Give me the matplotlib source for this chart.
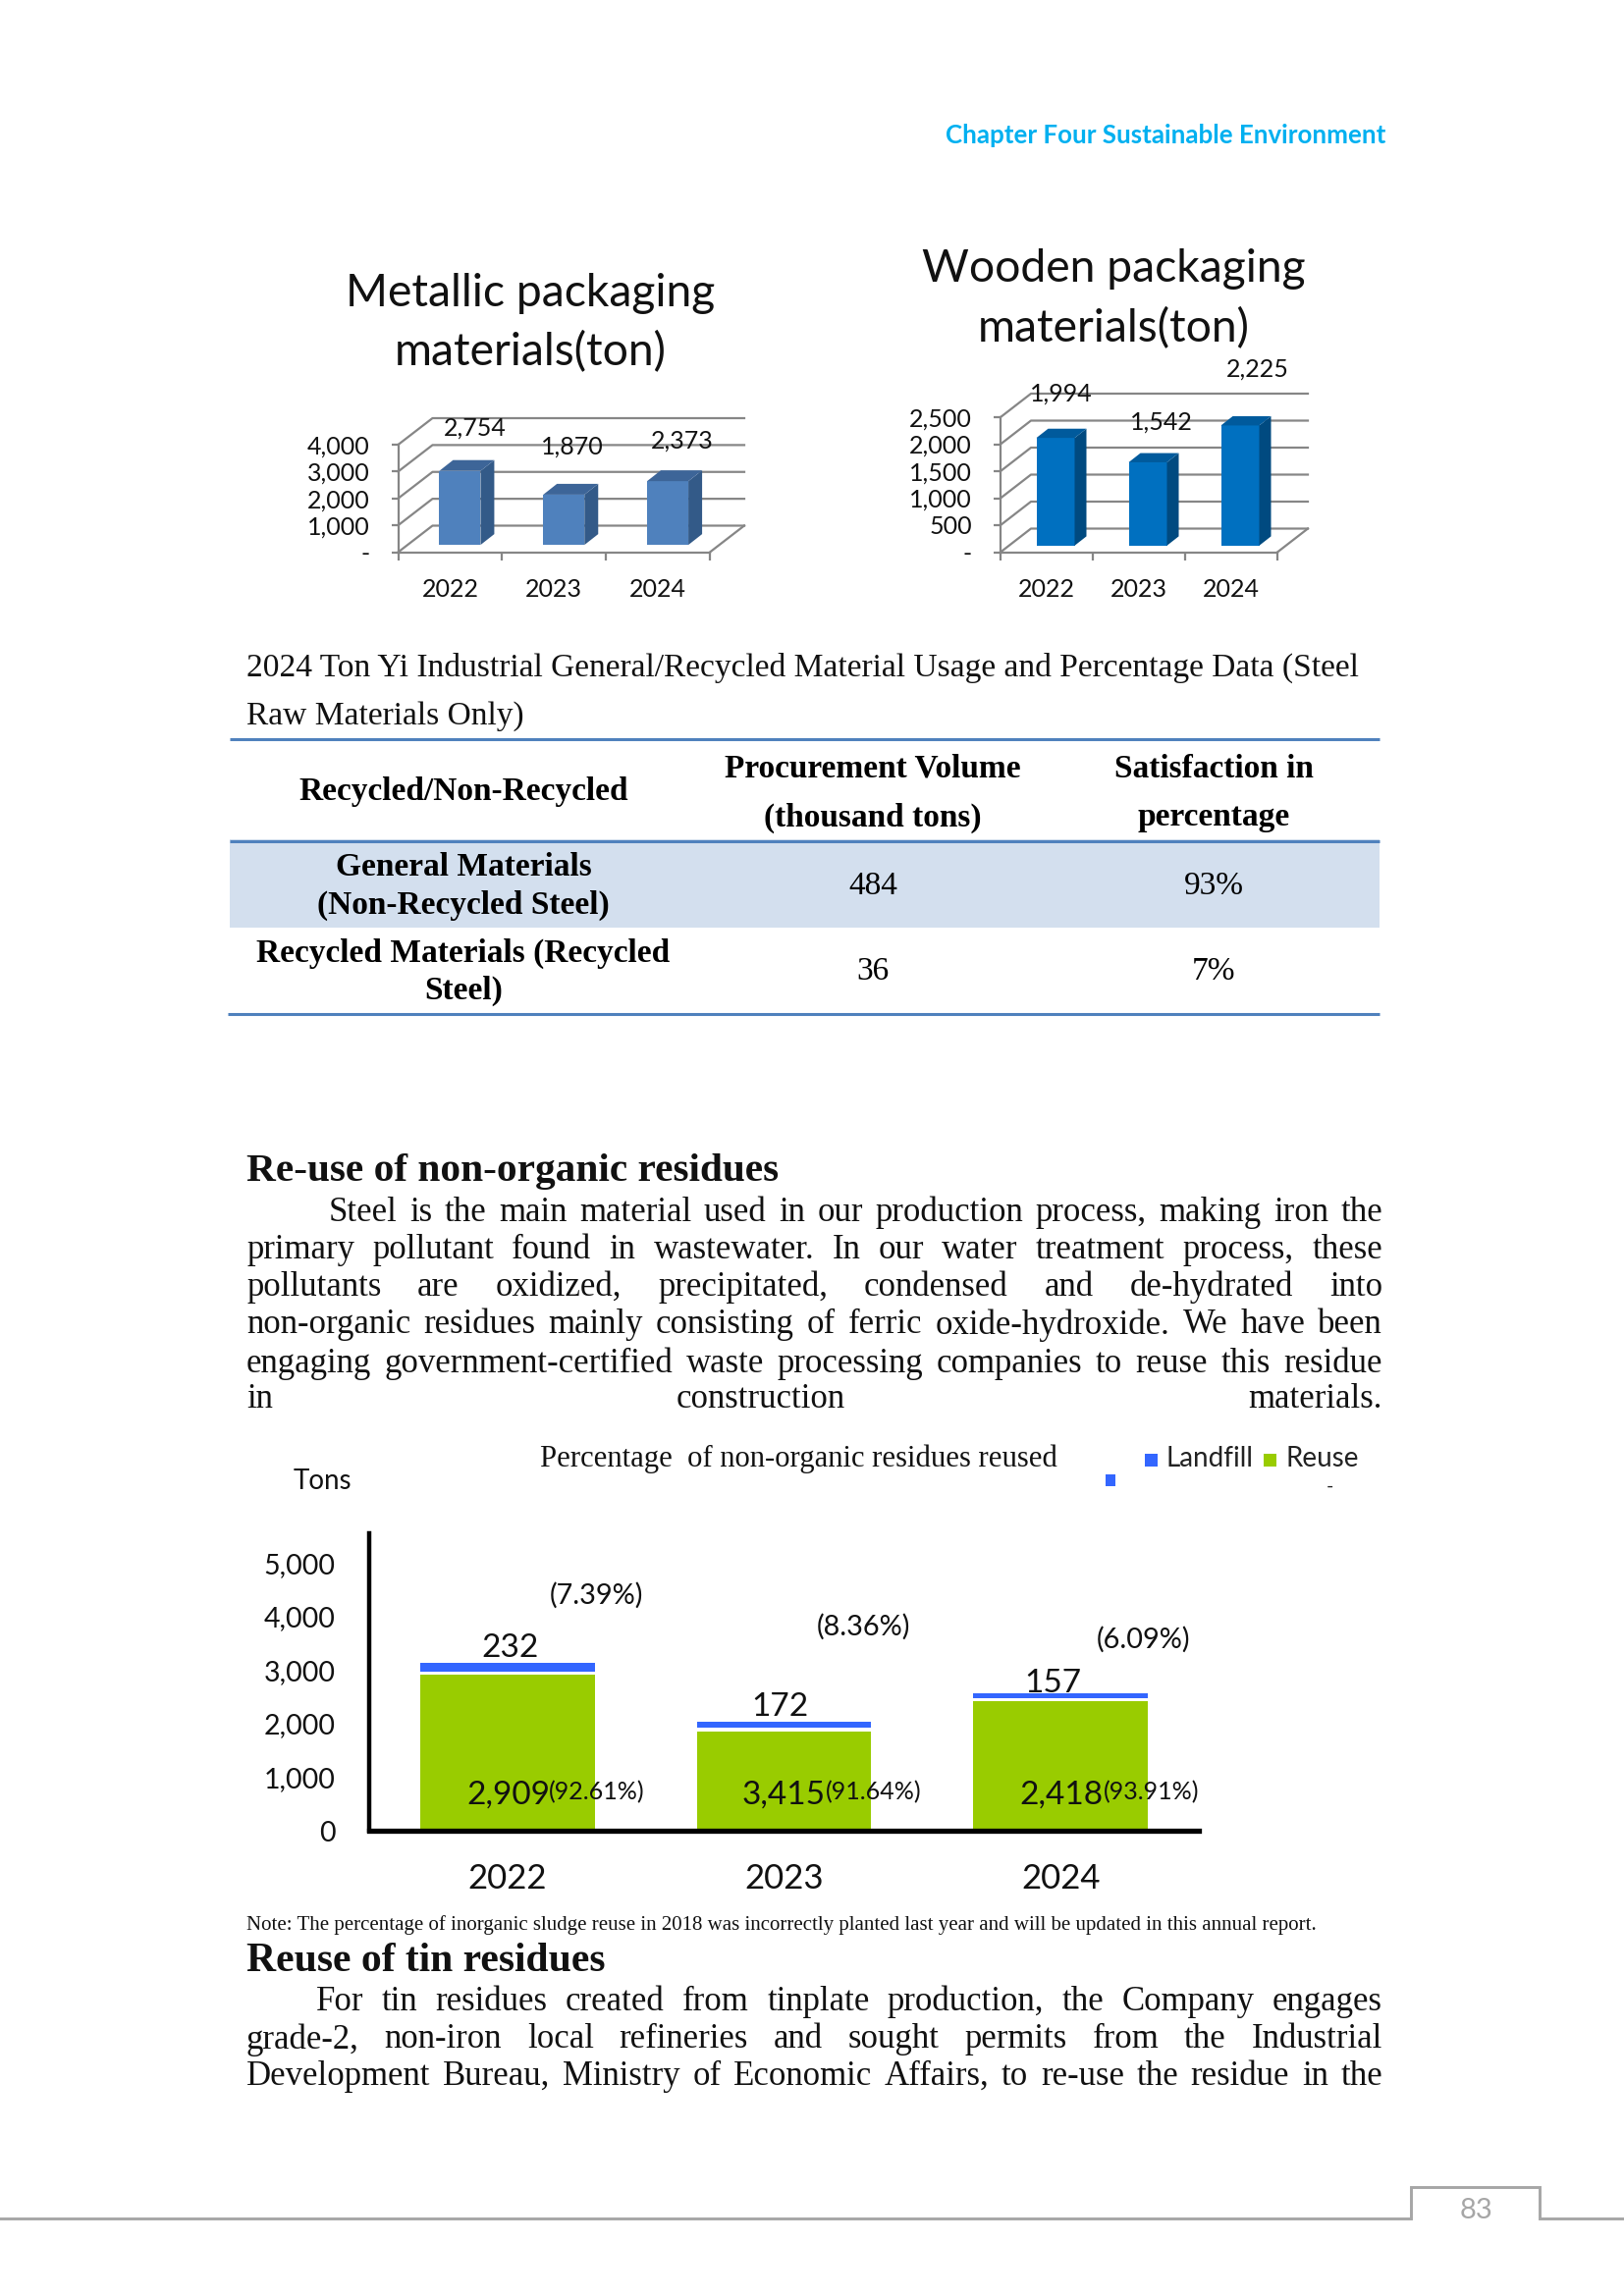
import numpy as np
import matplotlib
matplotlib.use('Agg')
import matplotlib.pyplot as plt
from matplotlib.patches import Polygon, Rectangle

W, H = 1654, 2339
SERIF = 'Liberation Serif'
SANS = 'Lato'

# packaging charts
years = ['2022', '2023', '2024']
metal_values = [2754, 1870, 2373]
metal_ticks = [0, 1000, 2000, 3000, 4000]
metal_ticklabels = ['-', '1,000', '2,000', '3,000', '4,000']
metal_labels = ['2,754', '1,870', '2,373']
wood_values = [1994, 1542, 2225]
wood_ticks = [0, 500, 1000, 1500, 2000, 2500]
wood_ticklabels = ['-', '500', '1,000', '1,500', '2,000', '2,500']
wood_labels = ['1,994', '1,542', '2,225']

# residue chart
reuse_values = [2909, 1861, 2414]  # bar heights as drawn, 2023 is shorter than its label
landfill_values = [232, 172, 157]
reuse_labels = ['2,909', '3,415', '2,418']
landfill_labels = ['232', '172', '157']
reuse_pct = ['(92.61%)', '(91.64%)', '(93.91%)']
landfill_pct = ['(7.39%)', '(8.36%)', '(6.09%)']
residue_ticks = [0, 1000, 2000, 3000, 4000, 5000]
residue_ticklabels = ['0', '1,000', '2,000', '3,000', '4,000', '5,000']

para1 = ['Steel is the main material used in our production process, making iron the',
         'primary pollutant found in wastewater. In our water treatment process, these',
         'pollutants are oxidized, precipitated, condensed and de-hydrated into',
         'non-organic residues mainly consisting of ferric oxide-hydroxide. We have been',
         'engaging government-certified waste processing companies to reuse this residue',
         'in construction materials.']
para2 = ['For tin residues created from tinplate production, the Company engages',
         'grade-2, non-iron local refineries and sought permits from the Industrial',
         'Development Bureau, Ministry of Economic Affairs, to re-use the residue in the']

fig = plt.figure(figsize=(W / 100, H / 100), dpi=100)
page = fig.add_axes([0, 0, 1, 1])
page.set_xlim(0, W)
page.set_ylim(H, 0)
page.axis('off')
page.set_zorder(10)  # text sits over the bars


def px_axes(left, top, right, bottom):
    ax = fig.add_axes([left / W, 1 - bottom / H, (right - left) / W, (bottom - top) / H])
    ax.patch.set_alpha(0)
    return ax


def put(x, y, s, size, family=SERIF, ha='center', va='center', **kw):
    return page.text(x, y, s, fontsize=size, family=family, ha=ha, va=va, **kw)


def justified(line, x0, x1, y, size):
    # place the words one by one so the line fills x0..x1
    words = line.split()
    rend = fig.canvas.get_renderer()
    items = [put(x0, y, w, size, ha='left', color='#111111') for w in words]
    widths = [t.get_window_extent(rend).width for t in items]
    gap = (x1 - x0 - sum(widths)) / (len(words) - 1)
    x = x0
    for t, w in zip(items, widths):
        t.set_x(x)
        x += w + gap


def chart_3d(box, ylim, ticks, ticklabels, values, wall, shift, lift, depth, bar_w, colors):
    left, top, right, bottom = box
    ax = px_axes(left, top, right, bottom)
    ux = (right - left) / 3.0
    uy = (bottom - top) / float(ylim)
    ax.set_xlim(0, 3)
    ax.set_ylim(0, ylim)
    wx, wy = wall[0] / ux, wall[1] / uy
    grey = '#868686'
    for v in ticks:
        ax.plot([0, wx, 3 + wx], [v, v + wy, v + wy], color=grey, lw=1.6, clip_on=False, zorder=1)
    ax.plot([3, 3 + wx], [0, wy], color=grey, lw=1.6, clip_on=False, zorder=1)
    x = np.arange(3) + 0.5 + shift / ux
    w = bar_w / ux
    b = lift / uy
    dx, dy = depth[0] / ux, depth[1] / uy
    ax.bar(x, values, width=w, bottom=b, color=colors[0], zorder=3, clip_on=False)
    for xi, v in zip(x, values):
        r = xi + w / 2
        l = xi - w / 2
        t = b + v
        ax.add_patch(Polygon([(r, b), (r + dx, b + dy), (r + dx, t + dy), (r, t)],
                             color=colors[1], lw=0, zorder=3, clip_on=False))
        ax.add_patch(Polygon([(l, t), (r, t), (r + dx, t + dy), (l + dx, t + dy)],
                             color=colors[2], lw=0, zorder=3, clip_on=False))
    for s in ['top', 'right']:
        ax.spines[s].set_visible(False)
    for s in ['left', 'bottom']:
        ax.spines[s].set_color(grey)
        ax.spines[s].set_linewidth(1.6)
        ax.spines[s].set_zorder(2)
    ax.set_yticks(ticks)
    ax.set_yticklabels(ticklabels, family=SANS, fontsize=18, color='#111111')
    ax.tick_params(axis='y', color=grey, width=1.6, length=5, pad=16)
    ax.set_xticks([0, 1, 2, 3])
    ax.set_xticklabels([])
    ax.set_xticks([0.5, 1.5, 2.5], minor=True)
    ax.set_xticklabels(years, minor=True, family=SANS, fontsize=18, color='#111111')
    ax.tick_params(axis='x', which='major', color=grey, width=1.6, length=6)
    ax.tick_params(axis='x', which='minor', length=0, pad=19)
    return ax


# page header
put(1411, 138, 'Chapter Four Sustainable Environment', 18.6, family=SANS, ha='right',
    color='#00B0F0', fontweight='bold')

# metallic chart
chart_3d((405.5, 453, 723, 562.5), 4000, metal_ticks, metal_ticklabels, metal_values,
         (35, 27), 10, 7.4, (14, 11), 42, ('#4F81BD', '#335A88', '#3D6598'))
put(540, 299, 'Metallic packaging', 33.3, family=SANS, color='#111111')
put(540, 359, 'materials(ton)', 33.3, family=SANS, color='#111111')
for px, py, s in zip([484, 583, 695], [436, 455, 449], metal_labels):
    put(px, py, s, 18, family=SANS, color='#111111')

# wooden chart
chart_3d((1019, 425, 1301, 562.5), 2500, wood_ticks, wood_ticklabels, wood_values,
         (31, 24), 9, 6.7, (12, 9.4), 39, ('#0070C0', '#004A80', '#005A9C'))
put(1134, 274, 'Wooden packaging', 33.3, family=SANS, color='#111111')
put(1134, 335, 'materials(ton)', 33.3, family=SANS, color='#111111')
for px, py, s in zip([1081, 1183, 1281], [401, 430, 376], wood_labels):
    put(px, py, s, 18, family=SANS, color='#111111')

# table
put(251, 680, '2024 Ton Yi Industrial General/Recycled Material Usage and Percentage Data (Steel',
    24.1, ha='left', color='#111111')
put(251, 730, 'Raw Materials Only)', 24.1, ha='left', color='#111111')
page.add_patch(Rectangle((234, 855), 1171, 90, color='#D3DFEE', lw=0))
for yy, xs in [(753, 234), (857, 234), (1033, 232)]:
    page.plot([xs, 1405], [yy, yy], color='#4F81BD', lw=2.2, solid_capstyle='butt')
col1, col2, col3 = 472, 889, 1236
put(col1, 807, 'Recycled/Non-Recycled', 24, fontweight='bold')
put(col2, 783, 'Procurement Volume', 24, fontweight='bold')
put(col2, 833, '(thousand tons)', 24, fontweight='bold')
put(col3, 783, 'Satisfaction in', 24, fontweight='bold')
put(col3, 833, 'percentage', 24, fontweight='bold')
put(col1, 884, 'General Materials', 24, fontweight='bold')
put(col1, 922, '(Non-Recycled Steel)', 24, fontweight='bold')
put(col2, 903, '484', 24)
put(col3, 903, '93%', 24)
put(col1, 971, 'Recycled Materials (Recycled', 24, fontweight='bold')
put(col1, 1009, 'Steel)', 24, fontweight='bold')
put(col2, 990, '36', 24)
put(col3, 990, '7%', 24)

# re-use text
put(251, 1193, 'Re-use of non-organic residues', 29.7, ha='left', fontweight='bold', color='#111111')
para1_y = [1235, 1273, 1311, 1350, 1389, 1426]
para1_x = [335, 251, 251, 251, 251, 251]
for ln, yy, xs in zip(para1, para1_y, para1_x):
    justified(ln, xs, 1408, yy, 25)

# residue chart
ax = px_axes(376, 1562, 1221, 1865)
ax.set_ylim(0, 5559)
ax.set_xlim(-0.5, 2.5)
xpos = np.arange(3)
reuse_arr = np.array(reuse_values)
land_arr = np.array(landfill_values)
ax.bar(xpos, reuse_arr, width=0.63, color='#99CC00', zorder=2)
ax.bar(xpos, land_arr, width=0.63, bottom=reuse_arr, color='#3366FF', zorder=2)
# thin white edge between the two parts of the stack
ax.bar(xpos, 60, width=0.66, bottom=reuse_arr, color='white', zorder=3)
for s in ['top', 'right']:
    ax.spines[s].set_visible(False)
ax.spines['left'].set_linewidth(3.2)
ax.spines['bottom'].set_linewidth(3.8)
ax.set_yticks(residue_ticks)
ax.set_yticklabels(residue_ticklabels, family=SANS, fontsize=20.5, color='#111111')
ax.tick_params(axis='y', length=0, pad=25)
ax.set_xticks(xpos)
ax.set_xticklabels(years, family=SANS, fontsize=25, color='#111111')
ax.tick_params(axis='x', length=0, pad=24)

put(328, 1509, 'Tons', 20, family=SANS, color='#111111')
put(813, 1486, 'Percentage  of non-organic residues reused', 22.1, color='#111111')
page.add_patch(Rectangle((1166, 1481), 13, 13, color='#3366FF', lw=0))
put(1188, 1486, 'Landfill', 20, family=SANS, ha='left', color='#222222')
page.add_patch(Rectangle((1287, 1481), 13, 13, color='#99CC00', lw=0))
put(1309, 1486, 'Reuse', 20, family=SANS, ha='left', color='#222222')
page.add_patch(Rectangle((1126, 1502), 10, 12, color='#3366FF', lw=0))
put(1354, 1514, '-', 14, family=SANS, color='#222222')

for px, py, s in zip([607, 879, 1164], [1625, 1657, 1670], landfill_pct):
    put(px, py, s, 20.8, family=SANS, color='#111111')
for px, py, s in zip([520, 794, 1072], [1679, 1739, 1715], landfill_labels):
    put(px, py, s, 24, family=SANS, color='#111111')
for px, py, s in zip([518, 798, 1081], [1829, 1829, 1829], reuse_labels):
    put(px, py, s, 24, family=SANS, color='#111111')
for px, py, s in zip([608, 890, 1173], [1826, 1826, 1826], reuse_pct):
    put(px, py, s, 18, family=SANS, color='#111111')

# note and tin text
put(251, 1961, 'Note: The percentage of inorganic sludge reuse in 2018 was incorrectly planted last year '
    'and will be updated in this annual report.', 15.05, ha='left', color='#111111')
put(251, 1998, 'Reuse of tin residues', 30, ha='left', fontweight='bold', color='#111111')
for ln, yy, xs in zip(para2, [2039, 2078, 2115], [322, 251, 251]):
    justified(ln, xs, 1408, yy, 25)

# footer
foot = '#A6A6A6'
page.plot([0, 1437, 1437, 1568, 1568, 1654], [2260, 2260, 2228, 2228, 2260, 2260],
          color=foot, lw=2.1, solid_joinstyle='miter')
put(1503, 2252, '83', 21, family=SANS, color=foot)

fig.savefig('out.png', dpi=100)
